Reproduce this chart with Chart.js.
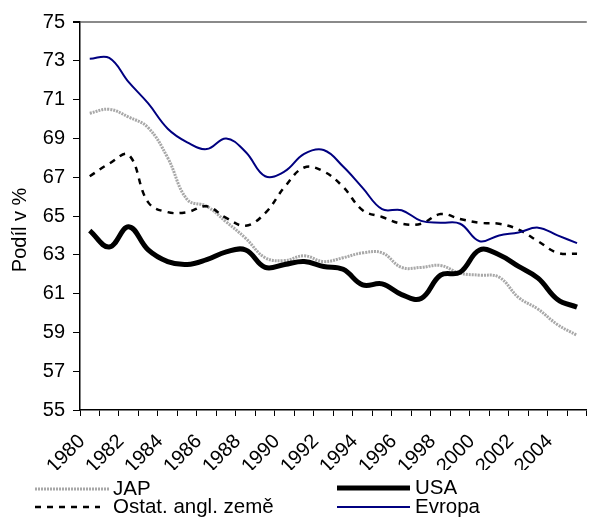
<!DOCTYPE html>
<html><head><meta charset="utf-8">
<script src="https://cdn.jsdelivr.net/npm/chart.js@4/dist/chart.umd.min.js"></script>
<style>html,body{margin:0;padding:0;overflow:hidden;background:#fff}</style>
</head><body>
<div style="position:relative;width:600px;height:519px"><canvas id="c" width="600" height="519"></canvas></div>
<script>
const years = ["1980","1981","1982","1983","1984","1985","1986","1987","1988","1989","1990","1991","1992","1993","1994","1995","1996","1997","1998","1999","2000","2001","2002","2003","2004","2005"];
const jap = [70.3,70.5,70.1,69.55,68.0,65.85,65.5,64.7,63.85,62.85,62.7,62.95,62.65,62.85,63.1,63.1,62.35,62.35,62.45,62.05,61.95,61.85,60.8,60.2,59.4,58.85];
const usa = [64.25,63.4,64.45,63.25,62.65,62.5,62.75,63.15,63.25,62.35,62.5,62.65,62.4,62.25,61.45,61.5,60.95,60.75,61.95,62.1,63.25,63.0,62.4,61.8,60.7,60.3];
const ostat = [67.05,67.7,68.15,65.7,65.2,65.2,65.5,64.9,64.5,65.15,66.5,67.5,67.3,66.5,65.3,64.95,64.6,64.6,65.1,64.85,64.65,64.6,64.3,63.7,63.1,63.05];
const evropa = [73.1,73.15,71.9,70.8,69.5,68.8,68.45,69.0,68.3,67.05,67.3,68.2,68.4,67.55,66.45,65.35,65.3,64.75,64.65,64.6,63.7,64.0,64.15,64.4,64.0,63.6];
const seriesNames = ["JAP","USA","Ostat. angl. země","Evropa"];
const yMin = 55, yMax = 75, yStep = 2;
const yTitle = "Podíl v %";

const FONT = "'Liberation Sans', Arial, sans-serif";

const legendPlugin = {
  id: 'customLegend',
  afterDraw(chart) {
    const ctx = chart.ctx;
    const slots = [
      {x1: 35, x2: 110, y: 489, tx: 113},
      {x1: 337, x2: 410, y: 488, tx: 415},
      {x1: 35, x2: 100, y: 507, tx: 113},
      {x1: 337, x2: 410, y: 507, tx: 415}
    ];
    chart.data.datasets.forEach((ds, i) => {
      const s = slots[i];
      ctx.save();
      ctx.strokeStyle = ds.borderColor;
      ctx.lineWidth = ds.borderWidth;
      ctx.setLineDash(ds.borderDash || []);
      ctx.beginPath();
      ctx.moveTo(s.x1, s.y);
      ctx.lineTo(s.x2, s.y);
      ctx.stroke();
      ctx.setLineDash([]);
      ctx.fillStyle = '#000';
      ctx.font = '20.5px ' + FONT;
      ctx.textBaseline = 'middle';
      ctx.textAlign = 'left';
      ctx.fillText(ds.label, s.tx, s.y);
      ctx.restore();
    });
  }
};

new Chart(document.getElementById('c'), {
  type: 'line',
  data: {
    labels: years,
    datasets: [
      {label: seriesNames[0], data: jap, borderColor: '#a8a8a8', borderWidth: 3, borderDash: [2,1], order: 3},
      {label: seriesNames[1], data: usa, borderColor: '#000000', borderWidth: 5, order: 0},
      {label: seriesNames[2], data: ostat, borderColor: '#000000', borderWidth: 2.5, borderDash: [6,6], order: 2},
      {label: seriesNames[3], data: evropa, borderColor: '#000080', borderWidth: 2, order: 1}
    ]
  },
  options: {
    responsive: false,
    animation: false,
    devicePixelRatio: 1,
    layout: {padding: {top: 22, left: 0, right: 0, bottom: 49}},
    elements: {point: {radius: 0, hoverRadius: 0}, line: {tension: 0.4, fill: false, borderCapStyle: 'butt'}},
    plugins: {legend: {display: false}, tooltip: {enabled: false}},
    scales: {
      x: {
        type: 'category',
        offset: true,
        afterFit(scale) { scale.height = 60; },
        grid: {offset: true, drawOnChartArea: false, drawTicks: true, tickLength: 6, color: '#000', lineWidth: 1},
        border: {display: true, color: '#000', width: 1.5},
        ticks: {
          autoSkip: false, maxRotation: 45, minRotation: 45, padding: 6,
          color: '#000', font: {family: FONT, size: 20},
          callback(v, i) { return i % 2 === 0 ? this.getLabelForValue(v) + '  ' : ''; }
        }
      },
      y: {
        min: yMin, max: yMax,
        afterFit(scale) { scale.width = 80; },
        grid: {
          drawOnChartArea: true, drawTicks: true, tickLength: 7,
          color: (c) => (c.tick && c.tick.value === yMax) ? '#8a8a8a' : 'rgba(0,0,0,0)',
          lineWidth: (c) => (c.tick && c.tick.value === yMax) ? 2 : 1,
          tickColor: '#000'
        },
        border: {display: true, color: '#000', width: 1.5},
        ticks: {stepSize: yStep, padding: 8, color: '#000', font: {family: FONT, size: 20}},
        title: {display: true, text: yTitle + '     ', color: '#000', font: {family: FONT, size: 20}, padding: {top: 8, bottom: 0}}
      }
    }
  },
  plugins: [legendPlugin]
});
</script>
</body></html>
